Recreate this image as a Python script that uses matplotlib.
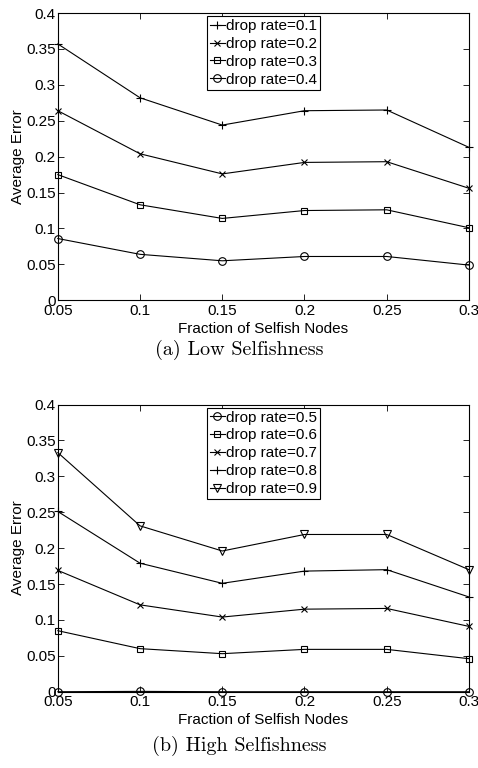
import numpy as np
import matplotlib
matplotlib.use("Agg")
import matplotlib.pyplot as plt

plt.rcParams['font.family'] = ['Liberation Sans', 'DejaVu Sans']

fraction = [0.05, 0.1, 0.15, 0.2, 0.25, 0.3]

# (a) low selfishness
low_rates = ["drop rate=0.1", "drop rate=0.2", "drop rate=0.3", "drop rate=0.4"]
low_markers = ["+", "x", "s", "o"]
low_err_01 = [0.357, 0.282, 0.244, 0.264, 0.265, 0.213]
low_err_02 = [0.264, 0.204, 0.176, 0.192, 0.193, 0.156]
low_err_03 = [0.175, 0.133, 0.114, 0.125, 0.126, 0.101]
low_err_04 = [0.086, 0.064, 0.055, 0.061, 0.061, 0.049]

# (b) high selfishness
high_rates = ["drop rate=0.5", "drop rate=0.6", "drop rate=0.7", "drop rate=0.8", "drop rate=0.9"]
high_markers = ["o", "s", "x", "+", "v"]
high_err_05 = [0.0, 0.0005, 0.0, 0.0, 0.0, 0.0]
high_err_06 = [0.085, 0.060, 0.053, 0.059, 0.059, 0.046]
high_err_07 = [0.169, 0.121, 0.104, 0.115, 0.116, 0.091]
high_err_08 = [0.251, 0.179, 0.151, 0.168, 0.170, 0.132]
high_err_09 = [0.333, 0.231, 0.196, 0.219, 0.219, 0.170]

yticks = [0, 0.05, 0.1, 0.15, 0.2, 0.25, 0.3, 0.35, 0.4]
ytick_labels = ["0", "0.05", "0.1", "0.15", "0.2", "0.25", "0.3", "0.35", "0.4"]
xtick_labels = ["0.05", "0.1", "0.15", "0.2", "0.25", "0.3"]

fig = plt.figure(figsize=(4.78, 7.68), dpi=100)
ax_a = fig.add_axes([0.121, 0.609, 0.860, 0.374])
ax_b = fig.add_axes([0.121, 0.0993, 0.860, 0.374])

msize = {"+": 6, "x": 4.5, "s": 5, "o": 5.5, "v": 6}


def draw_panel(ax, series, labels, markers, caption, cap_y):
    for vals, lab, mk in zip(series, labels, markers):
        ax.plot(fraction, vals, color="black", lw=0.8, marker=mk, markersize=msize[mk],
                markerfacecolor="none", markeredgecolor="black",
                markeredgewidth=0.8, label=lab, clip_on=False)
    ax.set_xlim(0.05, 0.3)
    ax.set_ylim(0, 0.4)
    ax.set_xticks(fraction)
    ax.set_xticklabels(xtick_labels)
    ax.set_yticks(yticks)
    ax.set_yticklabels(ytick_labels)
    ax.tick_params(direction="in", top=True, right=True, length=4, width=0.6,
                   labelsize=11)
    ax.tick_params(axis="y", pad=1.5)
    ax.tick_params(axis="x", pad=2.5)
    for sp in ax.spines.values():
        sp.set_linewidth(0.8)
    ax.set_xlabel("Fraction of Selfish Nodes", fontsize=11, labelpad=3)
    ax.set_ylabel("Average Error", fontsize=11, labelpad=1)
    leg = ax.legend(loc="upper center", fontsize=11, handlelength=1.0,
                    handletextpad=0.05, borderpad=0.2, labelspacing=0.25,
                    borderaxespad=0.2, fancybox=False, framealpha=1,
                    edgecolor="black", bbox_to_anchor=(0.5, 1.0))
    leg.get_frame().set_linewidth(0.8)
    fig.text(0.5, cap_y, caption, ha="center", va="center", fontsize=14.5,
             family=["cmr10", "DejaVu Serif"])


draw_panel(ax_a, [low_err_01, low_err_02, low_err_03, low_err_04],
           low_rates, low_markers, "(a) Low Selfishness", 1 - 350 / 768)
draw_panel(ax_b, [high_err_05, high_err_06, high_err_07, high_err_08, high_err_09],
           high_rates, high_markers, "(b) High Selfishness", 1 - 746 / 768)

fig.savefig("out.png", dpi=100)
